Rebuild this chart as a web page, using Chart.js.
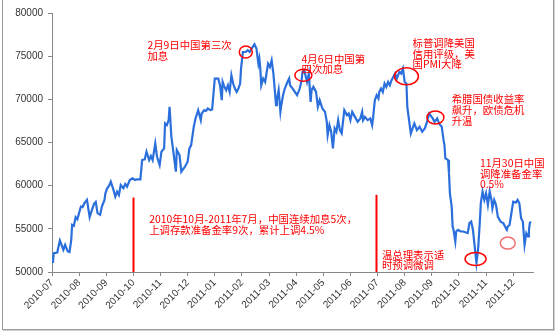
<!DOCTYPE html>
<html>
<head>
<meta charset="utf-8">
<script src="https://cdn.jsdelivr.net/npm/chart.js"></script>
<style>
  body { margin: 0; background: #fff; }
  #wrap { position: relative; width: 558px; height: 334px; }
  #frame { position: absolute; left: 2px; top: -2px; width: 550px; height: 330px;
           border: 1px solid #9a9a9a; box-shadow: 1px 1px 0 #d0d0d0; pointer-events: none; }
</style>
</head>
<body>
<div id="wrap">
  <canvas id="chart" width="558" height="334"></canvas>
  <div id="frame"></div>
</div>
<script>
const monthLabels = ['2010-07', '2010-08', '2010-09', '2010-10', '2010-11', '2010-12',
    '2011-01', '2011-02', '2011-03', '2011-04', '2011-05', '2011-06',
    '2011-07', '2011-08', '2011-09', '2011-10', '2011-11', '2011-12'];

const dates = [
    '2010-07-02', '2010-07-03', '2010-07-07', '2010-07-10', '2010-07-14', '2010-07-16', '2010-07-19', '2010-07-21',
    '2010-07-23', '2010-07-24', '2010-07-26', '2010-07-28', '2010-07-30', '2010-08-03', '2010-08-05', '2010-08-07',
    '2010-08-10', '2010-08-13', '2010-08-15', '2010-08-18', '2010-08-20', '2010-08-22', '2010-08-25', '2010-08-27',
    '2010-08-30', '2010-08-31', '2010-09-02', '2010-09-04', '2010-09-06', '2010-09-09', '2010-09-11', '2010-09-13',
    '2010-09-15', '2010-09-17', '2010-09-20', '2010-09-22', '2010-09-24', '2010-09-27', '2010-09-30', '2010-10-03',
    '2010-10-05', '2010-10-09', '2010-10-11', '2010-10-14', '2010-10-16', '2010-10-19', '2010-10-21', '2010-10-23',
    '2010-10-26', '2010-10-28', '2010-10-31', '2010-11-02', '2010-11-05', '2010-11-06', '2010-11-08', '2010-11-10',
    '2010-11-11', '2010-11-13', '2010-11-14', '2010-11-18', '2010-11-19', '2010-11-22', '2010-11-24', '2010-11-28',
    '2010-12-01', '2010-12-03', '2010-12-05', '2010-12-08', '2010-12-10', '2010-12-13', '2010-12-16', '2010-12-17',
    '2010-12-20', '2010-12-22', '2010-12-24', '2010-12-27', '2010-12-29', '2011-01-01', '2011-01-05', '2011-01-07',
    '2011-01-09', '2011-01-10', '2011-01-12', '2011-01-14', '2011-01-16', '2011-01-18', '2011-01-20', '2011-01-22',
    '2011-01-24', '2011-01-26', '2011-01-28', '2011-01-30', '2011-01-31', '2011-02-02', '2011-02-05', '2011-02-07',
    '2011-02-09', '2011-02-11', '2011-02-14', '2011-02-16', '2011-02-18', '2011-02-19', '2011-02-20', '2011-02-21',
    '2011-02-23', '2011-02-25', '2011-02-28', '2011-03-02', '2011-03-04', '2011-03-06', '2011-03-09', '2011-03-10',
    '2011-03-12', '2011-03-14', '2011-03-15', '2011-03-17', '2011-03-19', '2011-03-22', '2011-03-24', '2011-03-25',
    '2011-03-28', '2011-04-02', '2011-04-05', '2011-04-07', '2011-04-08', '2011-04-10', '2011-04-13', '2011-04-15',
    '2011-04-17', '2011-04-18', '2011-04-20', '2011-04-23', '2011-04-25', '2011-04-27', '2011-04-30', '2011-05-03',
    '2011-05-05', '2011-05-06', '2011-05-08', '2011-05-10', '2011-05-12', '2011-05-14', '2011-05-16', '2011-05-18',
    '2011-05-20', '2011-05-22', '2011-05-25', '2011-05-28', '2011-05-30', '2011-06-01', '2011-06-03', '2011-06-06',
    '2011-06-09', '2011-06-12', '2011-06-14', '2011-06-15', '2011-06-17', '2011-06-20', '2011-06-23', '2011-06-25',
    '2011-06-26', '2011-06-28', '2011-06-30', '2011-07-02', '2011-07-03', '2011-07-05', '2011-07-07', '2011-07-09',
    '2011-07-11', '2011-07-13', '2011-07-15', '2011-07-17', '2011-07-19', '2011-07-21', '2011-07-23', '2011-07-26',
    '2011-07-28', '2011-07-30', '2011-08-01', '2011-08-03', '2011-08-04', '2011-08-06', '2011-08-08', '2011-08-10',
    '2011-08-12', '2011-08-15', '2011-08-18', '2011-08-21', '2011-08-24', '2011-08-26', '2011-08-29', '2011-09-02',
    '2011-09-04', '2011-09-07', '2011-09-09', '2011-09-12', '2011-09-14', '2011-09-15', '2011-09-16', '2011-09-19',
    '2011-09-20', '2011-09-21', '2011-09-23', '2011-09-24', '2011-09-25', '2011-09-27', '2011-09-28', '2011-09-30',
    '2011-10-03', '2011-10-06', '2011-10-09', '2011-10-11', '2011-10-13', '2011-10-15', '2011-10-17', '2011-10-19',
    '2011-10-21', '2011-10-23', '2011-10-25', '2011-10-26', '2011-10-28', '2011-10-30', '2011-11-01', '2011-11-03',
    '2011-11-05', '2011-11-07', '2011-11-08', '2011-11-10', '2011-11-12', '2011-11-14', '2011-11-17', '2011-11-20',
    '2011-11-24', '2011-11-25', '2011-11-27', '2011-11-29', '2011-12-01', '2011-12-04', '2011-12-06', '2011-12-08',
    '2011-12-10', '2011-12-12', '2011-12-14', '2011-12-16', '2011-12-18', '2011-12-19', '2011-12-20', '2011-12-21'
];

const prices = [
    51040, 52190, 52260, 53650, 52580, 53150, 52380, 52310,
    53730, 55460, 55350, 56350, 56120, 57580, 57510, 57970,
    58350, 56350, 57000, 57890, 58120, 56810, 56620, 57580,
    58350, 59120, 59700, 59970, 60460, 59510, 58730, 59310,
    58930, 60080, 59700, 60200, 59890, 60660, 60860, 60660,
    60740, 60740, 62970, 63050, 63930, 62970, 63430, 62970,
    64900, 63350, 62390, 63930, 64320, 67210, 67010, 67590,
    69130, 65660, 64900, 61620, 64130, 63550, 61620, 62200,
    62770, 64320, 64700, 66820, 67790, 68750, 67590, 68360,
    68750, 68660, 68940, 68750, 68830, 72410, 72410, 71630,
    69900, 72010, 71440, 71060, 71630, 70860, 72790, 71830,
    71250, 70860, 71250, 71830, 73560, 75480, 75480, 75680,
    75480, 75870, 76370, 75870, 74140, 74720, 73560, 71630,
    72410, 72010, 74140, 73750, 74520, 72980, 69320, 69900,
    71060, 68550, 69320, 70480, 71250, 72010, 72410, 71630,
    71250, 70480, 71250, 72210, 73170, 73370, 72010, 72980,
    69700, 71060, 71440, 70860, 69130, 69900, 68940, 68550,
    67390, 65860, 67010, 66240, 64320, 66630, 66240, 67590,
    66430, 66050, 68750, 68170, 68360, 67590, 68550, 67970,
    67390, 67790, 68550, 67590, 67970, 67590, 67790, 67010,
    67790, 69900, 70480, 70100, 70860, 71250, 70860, 71830,
    71440, 72010, 71630, 72210, 72590, 72980, 72410, 73170,
    72980, 73560, 72010, 71830, 69130, 67590, 66050, 66630,
    67210, 66440, 66820, 66240, 66630, 67210, 68360, 67790,
    67390, 67790, 67210, 66820, 65280, 64700, 63170, 62970,
    61430, 59120, 57580, 55270, 54890, 53530, 54690, 54890,
    54690, 54690, 54570, 54500, 55660, 55840, 54890, 52960,
    51040, 52770, 56040, 57970, 59310, 58350, 59120, 57770,
    59310, 58350, 57390, 58350, 57770, 56420, 55840, 55660,
    54890, 55270, 55460, 56810, 58150, 58040, 58350, 57970,
    56240, 55840, 53150, 54500, 54110, 54890, 55660, 55840
];

// text notes: anchor is the first line's left edge, lines stacked downward
const notes = [
    { date: '2010-10-17', value: 76250, lines: ['2月9日中国第三次', '加息'] },
    { date: '2011-04-07', value: 74720, lines: ['4月6日中国第', '四次加息'] },
    { date: '2011-08-10', value: 76520, lines: ['标普调降美国', '信用评级，美', '国PMI大降'] },
    { date: '2011-09-23', value: 69980, lines: ['希腊国债收益率', '飙升，欧债危机', '升温'] },
    { date: '2011-10-25', value: 62590, lines: ['11月30日中国', '调降准备金率', '0.5%'] },
    { date: '2010-10-19', value: 56120, lines: ['2010年10月-2011年7月，中国连续加息5次，', '上调存款准备金率9次，累计上调4.5%'] },
    { date: '2011-07-06', value: 52000, lines: ['温总理表示适', '时预调微调'] }
];

const rings = [
    { date: '2011-02-05', value: 75480, rx: 6.5, ry: 6, color: '#ff0000' },
    { date: '2011-04-09', value: 72790, rx: 8.5, ry: 6, color: '#ff0000' },
    { date: '2011-08-03', value: 72670, rx: 12, ry: 8.5, color: '#ff0000' },
    { date: '2011-09-05', value: 67900, rx: 8.5, ry: 6.5, color: '#ff0000' },
    { date: '2011-10-20', value: 51500, rx: 10.5, ry: 6.5, color: '#ff0000' },
    { date: '2011-11-25', value: 53350, rx: 7.5, ry: 6, color: '#f07070' }
];

const markers = [
    { date: '2010-10-01', value: 58620 },
    { date: '2011-06-29', value: 58930 }
];

// date string -> months since 2010-07-01
function monthPos(s) {
    const [y, m, d] = s.split('-').map(Number);
    const dim = new Date(y, m, 0).getDate();
    return (y - 2010) * 12 + (m - 7) + (d - 1) / dim;
}

const notesPlugin = {
    id: 'notes',
    afterDatasetsDraw(chart) {
        const ctx = chart.ctx;
        const xs = chart.scales.x, ys = chart.scales.y;
        ctx.save();
        ctx.strokeStyle = '#ff0000';
        ctx.lineWidth = 2;
        markers.forEach(mk => {
            const x = Math.round(xs.getPixelForValue(monthPos(mk.date))) + 0.5;
            ctx.beginPath();
            ctx.moveTo(x, ys.getPixelForValue(mk.value));
            ctx.lineTo(x, ys.getPixelForValue(50000));
            ctx.stroke();
        });
        ctx.lineWidth = 1.5;
        rings.forEach(r => {
            ctx.strokeStyle = r.color;
            ctx.beginPath();
            ctx.ellipse(xs.getPixelForValue(monthPos(r.date)), ys.getPixelForValue(r.value), r.rx, r.ry, 0, 0, Math.PI * 2);
            ctx.stroke();
        });
        ctx.fillStyle = '#ff0000';
        ctx.font = '10.4px "Noto Sans CJK SC"';
        ctx.textBaseline = 'middle';
        notes.forEach(n => {
            const x = xs.getPixelForValue(monthPos(n.date));
            const y = ys.getPixelForValue(n.value);
            n.lines.forEach((t, i) => ctx.fillText(t, x, y + i * 10.6));
        });
        ctx.restore();
    }
};

new Chart(document.getElementById('chart'), {
    type: 'line',
    data: {
        datasets: [{
            data: dates.map((d, i) => ({ x: monthPos(d), y: prices[i] })),
            borderColor: '#2a6fdc',
            borderWidth: 2.2,
            pointRadius: 0,
            tension: 0
        }]
    },
    options: {
        responsive: false,
        animation: false,
        layout: { padding: { left: 0, top: 13, right: 25, bottom: 0 } },
        plugins: { legend: { display: false }, tooltip: { enabled: false } },
        scales: {
            x: {
                type: 'linear',
                min: 0,
                max: 17.73,
                afterBuildTicks: scale => {
                    scale.ticks = monthLabels.map((_, i) => ({ value: i }));
                },
                afterFit: scale => { scale.height = 62; },
                grid: { drawOnChartArea: false, tickLength: 4, color: '#888' },
                border: { color: '#888' },
                ticks: {
                    autoSkip: false,
                    maxRotation: 45,
                    minRotation: 45,
                    padding: 1,
                    color: '#333',
                    font: { family: 'Liberation Sans', size: 10 },
                    callback: v => monthLabels[v]
                }
            },
            y: {
                min: 50000,
                max: 80000,
                afterFit: scale => { scale.width = 52; },
                grid: { drawOnChartArea: false, tickLength: 4, color: '#888' },
                border: { color: '#888' },
                ticks: {
                    stepSize: 5000,
                    padding: 5,
                    color: '#333',
                    font: { family: 'Liberation Sans', size: 10 },
                    callback: v => String(v)
                }
            }
        }
    },
    plugins: [notesPlugin]
});
</script>
</body>
</html>
